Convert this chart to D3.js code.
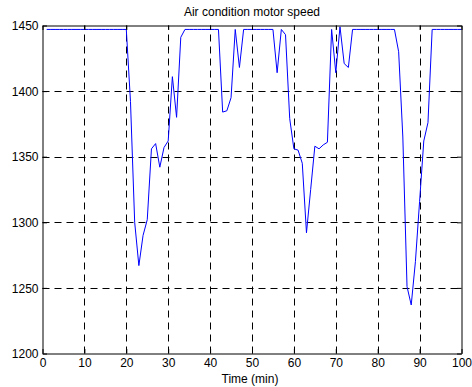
<!DOCTYPE html>
<html>
<head>
<meta charset="utf-8">
<script src="https://cdn.jsdelivr.net/npm/d3@7"></script>
<style>
  html, body { margin: 0; padding: 0; background: #fff; }
  svg { display: block; font-family: Arial, "Liberation Sans", Helvetica, sans-serif; }
</style>
</head>
<body>
<svg id="chart" width="472" height="387"></svg>
<script>
// Motor speed sampled once per minute
const minutes = d3.range(1, 101);
const speed = [
  1447, 1447, 1447, 1447, 1447, 1447, 1447, 1447, 1447, 1447,
  1447, 1447, 1447, 1447, 1447, 1447, 1447, 1447, 1447, 1447,
  1392, 1300, 1267, 1290, 1302, 1356, 1360, 1342, 1357, 1362,
  1411, 1380, 1441, 1447, 1447, 1447, 1447, 1447, 1447, 1447,
  1447, 1447, 1384, 1385, 1395, 1447, 1418, 1447, 1447, 1447,
  1447, 1447, 1447, 1447, 1447, 1414, 1447, 1443, 1379, 1356,
  1355, 1345, 1292, 1325, 1358, 1356, 1359, 1361, 1447, 1414,
  1449, 1421, 1418, 1447, 1447, 1447, 1447, 1447, 1447, 1447,
  1447, 1447, 1447, 1447, 1430, 1365, 1251, 1237, 1270, 1316,
  1362, 1376, 1447, 1447, 1447, 1447, 1447, 1447, 1447, 1447
];
const xTicks = [0, 10, 20, 30, 40, 50, 60, 70, 80, 90, 100];
const yTicks = [1200, 1250, 1300, 1350, 1400, 1450];
const titleText = "Air condition motor speed";
const xLabelText = "Time (min)";

const svg = d3.select("#chart");
const plotLeft = 42.5, plotRight = 461.5, plotTop = 25.5, plotBottom = 353.5;

const x = d3.scaleLinear().domain([0, 100]).range([plotLeft, plotRight]);
const y = d3.scaleLinear().domain([1200, 1450]).range([plotBottom, plotTop]);

svg.append("rect").attr("width", 472).attr("height", 387).attr("fill", "#fff");

// dashed grid
const grid = svg.append("g").attr("stroke", "#000").attr("stroke-width", 1)
  .attr("stroke-dasharray", "7,5").attr("fill", "none");
grid.selectAll("line.vx").data(xTicks.slice(1, -1)).join("line")
  .attr("x1", d => Math.round(x(d)) + 0.5).attr("x2", d => Math.round(x(d)) + 0.5)
  .attr("y1", plotBottom).attr("y2", plotTop);
grid.selectAll("line.hy").data(yTicks.slice(1, -1)).join("line")
  .attr("y1", d => Math.round(y(d)) + 0.5).attr("y2", d => Math.round(y(d)) + 0.5)
  .attr("x1", plotLeft).attr("x2", plotRight);

// data line
const line = d3.line().x((d, i) => x(minutes[i])).y(d => y(d));
svg.append("path").datum(speed)
  .attr("d", line)
  .attr("fill", "none")
  .attr("stroke", "#0000ff")
  .attr("stroke-width", 1);

// axes box with inward ticks on all four sides
const tickLen = 4.5;
const fontSize = 12;
const fmt = d3.format("d");
const axB = svg.append("g").attr("transform", `translate(0,${plotBottom})`)
  .call(d3.axisBottom(x).tickValues(xTicks).tickFormat(fmt).tickSizeInner(-tickLen).tickSizeOuter(0).tickPadding(8));
const axT = svg.append("g").attr("transform", `translate(0,${plotTop})`)
  .call(d3.axisTop(x).tickValues(xTicks).tickSizeInner(-tickLen).tickSizeOuter(0).tickFormat(""));
const axL = svg.append("g").attr("transform", `translate(${plotLeft},0)`)
  .call(d3.axisLeft(y).tickValues(yTicks).tickFormat(fmt).tickSizeInner(-tickLen).tickSizeOuter(0).tickPadding(8));
const axR = svg.append("g").attr("transform", `translate(${plotRight},0)`)
  .call(d3.axisRight(y).tickValues(yTicks).tickSizeInner(-tickLen).tickSizeOuter(0).tickFormat(""));

[axB, axT, axL, axR].forEach(a => {
  a.selectAll("path.domain").attr("stroke", "#000").attr("stroke-width", 1);
  a.selectAll(".tick line").attr("stroke", "#000");
  a.selectAll("text").attr("fill", "#000")
    .style("font-size", fontSize + "px")
    .style("font-family", "Arial, 'Liberation Sans', Helvetica, sans-serif");
});
axB.selectAll("text").attr("dy", "0.71em").attr("y", 5);
axL.selectAll("text").attr("x", -4).attr("dy", "0.35em");

// title and axis label
svg.append("text")
  .attr("x", (plotLeft + plotRight) / 2).attr("y", 16)
  .attr("text-anchor", "middle")
  .style("font-size", fontSize + "px")
  .attr("fill", "#000")
  .text(titleText);
svg.append("text")
  .attr("x", 250).attr("y", 383)
  .attr("text-anchor", "middle")
  .style("font-size", fontSize + "px")
  .attr("fill", "#000")
  .text(xLabelText);
</script>
</body>
</html>
